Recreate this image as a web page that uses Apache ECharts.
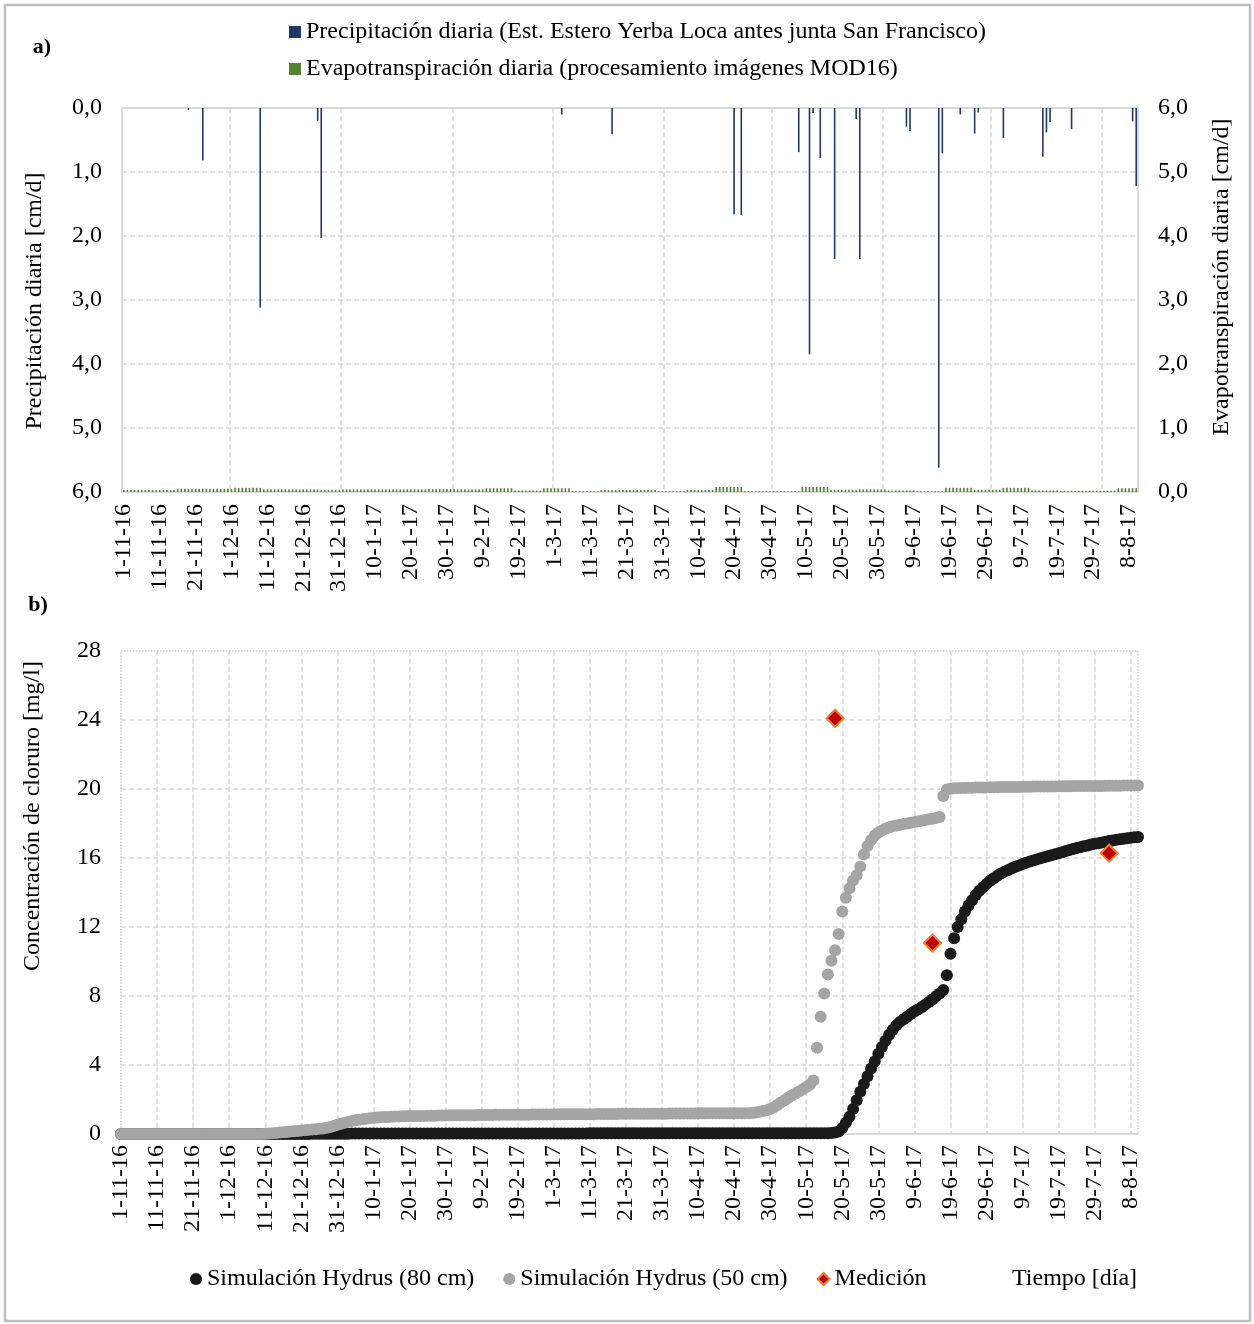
<!DOCTYPE html>
<html>
<head>
<meta charset="utf-8">
<script src="https://cdn.jsdelivr.net/npm/echarts@6/dist/echarts.min.js"></script>
<style>
html,body{margin:0;padding:0;background:#fff;}
#chart{width:1254px;height:1324px;}
</style>
</head>
<body>
<div id="chart"></div>
<script>
// Daily records start on 1 Nov 2016; the time axis covers 283 days (to 10 Aug 2017).
const startYear = 2016, startMonth = 10, startDay = 1;
const dayCount = 283;

// Panel a) daily precipitation [cm/d]
const precipDates = ['19-11-16','23-11-16','9-12-16','25-12-16','26-12-16','3-3-17','17-3-17',
  '20-4-17','22-4-17','8-5-17','11-5-17','12-5-17','14-5-17','18-5-17','24-5-17','25-5-17',
  '7-6-17','8-6-17','16-6-17','17-6-17','22-6-17','26-6-17','27-6-17','4-7-17','15-7-17',
  '16-7-17','17-7-17','23-7-17','9-8-17','10-8-17'];
const precipValues = [0.03,0.82,3.12,0.2,2.03,0.1,0.41,
  1.66,1.67,0.69,3.85,0.08,0.78,2.36,0.17,2.36,
  0.29,0.36,5.62,0.71,0.1,0.4,0.07,0.47,0.76,
  0.38,0.22,0.33,0.21,1.22];

// Panel a) MOD16 evapotranspiration [cm/d], one value per 8-day composite (start date of each)
const etBlockStarts = ['1-11-16','8-11-16','16-11-16','24-11-16','2-12-16','10-12-16','18-12-16','26-12-16',
  '1-1-17','9-1-17','17-1-17','25-1-17','2-2-17','10-2-17','18-2-17','26-2-17','6-3-17','14-3-17',
  '22-3-17','30-3-17','7-4-17','15-4-17','23-4-17','1-5-17','9-5-17','17-5-17','25-5-17','2-6-17',
  '10-6-17','18-6-17','26-6-17','4-7-17','12-7-17','20-7-17','28-7-17','5-8-17'];
const etBlockValues = [0.03,0.03,0.05,0.05,0.065,0.04,0.04,0.035,
  0.04,0.04,0.04,0.045,0.04,0.06,0.025,0.06,0.012,0.03,
  0.03,0.01,0.03,0.08,0.012,0.012,0.08,0.035,0.04,0.025,
  0.01,0.065,0.035,0.065,0.025,0.02,0.02,0.06];

// Panel b) time axis labels, every 10 days
const timeTickLabels = ['1-11-16','11-11-16','21-11-16','1-12-16','11-12-16','21-12-16','31-12-16',
  '10-1-17','20-1-17','30-1-17','9-2-17','19-2-17','1-3-17','11-3-17','21-3-17','31-3-17',
  '10-4-17','20-4-17','30-4-17','10-5-17','20-5-17','30-5-17','9-6-17','19-6-17','29-6-17',
  '9-7-17','19-7-17','29-7-17','8-8-17'];

// Panel b) simulated chloride concentration [mg/l], one value per day from 1-11-16
const sim80 = [
  0,0,0,0,0,0,0,0,0,0,
  0,0,0,0,0,0,0,0,0,0,
  0,0,0,0,0,0,0,0,0,0,
  0,0,0,0,0,0,0,0,0,0,
  0,0,0,0,0,0,0,0,0,0,
  0,0,0,0.01,0.01,0.01,0.01,0.02,0.02,0.02,
  0.02,0.02,0.02,0.02,0.03,0.03,0.03,0.03,0.03,0.03,
  0.03,0.03,0.03,0.03,0.03,0.03,0.03,0.03,0.03,0.03,
  0.03,0.03,0.03,0.03,0.03,0.03,0.03,0.03,0.03,0.03,
  0.03,0.03,0.03,0.03,0.03,0.03,0.03,0.03,0.03,0.03,
  0.03,0.03,0.03,0.03,0.03,0.03,0.03,0.03,0.03,0.03,
  0.03,0.03,0.03,0.03,0.03,0.03,0.03,0.03,0.03,0.03,
  0.03,0.03,0.03,0.03,0.03,0.03,0.03,0.03,0.03,0.03,
  0.04,0.04,0.04,0.04,0.04,0.04,0.04,0.04,0.04,0.04,
  0.04,0.04,0.04,0.04,0.04,0.04,0.04,0.04,0.04,0.04,
  0.04,0.04,0.04,0.04,0.04,0.04,0.04,0.04,0.04,0.04,
  0.04,0.04,0.04,0.04,0.04,0.04,0.04,0.04,0.04,0.04,
  0.04,0.04,0.04,0.04,0.04,0.04,0.04,0.04,0.04,0.04,
  0.04,0.04,0.04,0.04,0.04,0.04,0.04,0.04,0.04,0.04,
  0.04,0.04,0.04,0.04,0.05,0.05,0.05,0.06,0.08,0.15,
  0.35,0.65,1.0,1.45,1.95,2.45,2.9,3.35,3.8,4.2,
  4.65,5.05,5.4,5.75,6.05,6.3,6.5,6.65,6.8,6.95,
  7.1,7.22,7.35,7.5,7.65,7.8,7.98,8.15,8.35,9.2,
  10.45,11.35,12.0,12.45,12.9,13.25,13.55,13.85,14.1,14.3,
  14.5,14.68,14.83,14.97,15.1,15.21,15.31,15.4,15.49,15.57,
  15.65,15.72,15.79,15.86,15.92,15.98,16.04,16.1,16.16,16.22,
  16.28,16.34,16.4,16.46,16.52,16.58,16.63,16.68,16.73,16.78,
  16.82,16.86,16.9,16.94,16.98,17.02,17.06,17.09,17.12,17.15,
  17.18,17.2,17.22
];
const sim50 = [
  0,0,0,0,0,0,0,0,0,0,
  0,0,0,0,0,0,0,0,0,0,
  0,0,0,0,0,0,0,0,0,0,
  0,0,0,0,0,0,0,0,0,0,
  0.02,0.03,0.05,0.06,0.08,0.1,0.12,0.14,0.16,0.18,
  0.2,0.22,0.24,0.26,0.28,0.3,0.32,0.36,0.41,0.47,
  0.53,0.59,0.65,0.7,0.75,0.79,0.83,0.86,0.89,0.91,
  0.93,0.95,0.97,0.98,0.99,1.0,1.01,1.02,1.03,1.03,
  1.04,1.04,1.05,1.05,1.05,1.06,1.06,1.06,1.07,1.07,
  1.07,1.08,1.08,1.08,1.08,1.09,1.09,1.09,1.09,1.1,
  1.1,1.1,1.1,1.1,1.11,1.11,1.11,1.11,1.11,1.12,
  1.12,1.12,1.12,1.12,1.13,1.13,1.13,1.13,1.13,1.13,
  1.14,1.14,1.14,1.14,1.14,1.14,1.15,1.15,1.15,1.15,
  1.15,1.15,1.16,1.16,1.16,1.16,1.16,1.16,1.17,1.17,
  1.17,1.17,1.17,1.17,1.17,1.18,1.18,1.18,1.18,1.18,
  1.18,1.18,1.19,1.19,1.19,1.19,1.19,1.19,1.19,1.19,
  1.2,1.2,1.2,1.2,1.2,1.2,1.2,1.2,1.2,1.2,
  1.2,1.2,1.2,1.2,1.2,1.22,1.25,1.29,1.33,1.38,
  1.45,1.55,1.68,1.82,1.96,2.1,2.23,2.35,2.47,2.6,
  2.72,2.85,3.1,5.0,6.8,8.15,9.25,10.05,10.65,11.6,
  12.9,13.7,14.25,14.7,15.0,15.5,16.2,16.7,17.05,17.3,
  17.48,17.6,17.7,17.78,17.84,17.89,17.93,17.97,18.0,18.04,
  18.08,18.12,18.16,18.2,18.24,18.28,18.32,18.38,19.6,19.97,
  20.02,20.04,20.05,20.06,20.06,20.07,20.07,20.08,20.08,20.09,
  20.09,20.1,20.1,20.1,20.11,20.11,20.11,20.12,20.12,20.12,
  20.13,20.13,20.13,20.14,20.14,20.14,20.15,20.15,20.15,20.15,
  20.16,20.16,20.16,20.16,20.17,20.17,20.17,20.17,20.18,20.18,
  20.18,20.18,20.18,20.19,20.19,20.19,20.19,20.19,20.2,20.2,
  20.2,20.2,20.2
];

// Panel b) measured chloride concentration [mg/l]
const measDates = ['18-5-17','14-6-17','2-8-17'];
const measValues = [24.1, 11.07, 16.28];

// --- date helpers ---------------------------------------------------------
const DAY_MS = 86400000;
const t0 = Date.UTC(startYear, startMonth, startDay);
function dayLabel(i) {
  const d = new Date(t0 + i * DAY_MS);
  return d.getUTCDate() + '-' + (d.getUTCMonth() + 1) + '-' + String(d.getUTCFullYear()).slice(2);
}
function dayIndex(label) {
  const p = label.split('-').map(Number);
  return Math.round((Date.UTC(2000 + p[2], p[1] - 1, p[0]) - t0) / DAY_MS);
}

const days = Array.from({ length: dayCount }, (_, i) => dayLabel(i));
const precipDaily = days.map(d => {
  const k = precipDates.indexOf(d);
  return k >= 0 ? precipValues[k] : '-';
});
const etStartIdx = etBlockStarts.map(dayIndex);
const etDaily = days.map((d, i) => {
  let k = 0;
  while (k + 1 < etStartIdx.length && etStartIdx[k + 1] <= i) k++;
  return etBlockValues[k];
});
const isMonthStart = i => i > 0 && days[i] && days[i].split('-')[0] === '1';

const serif = 'Liberation Serif, Times New Roman, serif';
const fmt1 = v => Number(v).toFixed(1).replace('.', ',');
const gridLine = { color: '#d9d9d9', width: 1.5, type: [5, 3] };
const tickText = { fontSize: 24, color: '#000', fontFamily: serif };

const precipName = 'Precipitación diaria (Est. Estero Yerba Loca antes junta San Francisco)';
const etName = 'Evapotranspiración diaria (procesamiento imágenes MOD16)';
const s80Name = 'Simulación Hydrus (80 cm)';
const s50Name = 'Simulación Hydrus (50 cm)';
const measName = 'Medición';

const chart = echarts.init(document.getElementById('chart'), null, { renderer: 'canvas' });
chart.setOption({
  animation: false,
  backgroundColor: '#ffffff',
  textStyle: { fontFamily: serif },
  grid: [
    { left: 122, top: 108, width: 1016, height: 384, show: true, borderColor: '#d9d9d9', borderWidth: 2,
      backgroundColor: 'transparent', outerBoundsMode: 'none' },
    { left: 121, top: 651, width: 1017, height: 483, show: true, borderColor: '#cfcfcf', borderWidth: 1.5,
      borderType: 'dotted', backgroundColor: 'transparent', outerBoundsMode: 'none' }
  ],
  legend: [
    { data: [precipName, etName], orient: 'vertical', left: 289, top: 20, itemGap: 13, padding: 0,
      itemWidth: 12, itemHeight: 12, icon: 'rect', selectedMode: false,
      textStyle: { fontSize: 24, color: '#000', fontFamily: serif } },
    { data: [s80Name, s50Name, measName], orient: 'horizontal', left: 190, top: 1267, itemGap: 29, padding: 0,
      itemWidth: 12, itemHeight: 12, selectedMode: false,
      textStyle: { fontSize: 24, color: '#000', fontFamily: serif } }
  ],
  xAxis: [
    { type: 'category', gridIndex: 0, data: days, boundaryGap: true,
      axisLine: { show: false }, axisTick: { show: false },
      axisLabel: Object.assign({ interval: i => i % 10 === 0, rotate: 90, margin: 12 }, tickText),
      splitLine: { show: true, interval: i => isMonthStart(i), lineStyle: gridLine } },
    { type: 'value', gridIndex: 1, min: 0, max: dayCount - 1, interval: 10,
      axisLine: { show: true, onZero: false, lineStyle: { color: '#d9d9d9', width: 2 } },
      axisTick: { show: false },
      axisLabel: Object.assign({ rotate: 90, margin: 11, showMaxLabel: false,
        formatter: v => (v % 10 === 0 ? (timeTickLabels[v / 10] || '') : '') }, tickText),
      splitLine: { show: true, showMinLine: false, showMaxLine: false, lineStyle: gridLine } }
  ],
  yAxis: [
    { type: 'value', gridIndex: 0, min: 0, max: 6, interval: 1, inverse: true, position: 'left',
      axisLine: { show: false }, axisTick: { show: false },
      axisLabel: Object.assign({ formatter: fmt1, margin: 20 }, tickText),
      splitLine: { show: true, showMinLine: false, showMaxLine: false, lineStyle: gridLine } },
    { type: 'value', gridIndex: 0, min: 0, max: 6, interval: 1, position: 'right',
      axisLine: { show: false }, axisTick: { show: false },
      axisLabel: Object.assign({ formatter: fmt1, margin: 20 }, tickText),
      splitLine: { show: false } },
    { type: 'value', gridIndex: 1, min: 0, max: 28, interval: 4,
      axisLine: { show: false }, axisTick: { show: false },
      axisLabel: Object.assign({ margin: 20 }, tickText),
      splitLine: { show: true, showMinLine: false, showMaxLine: false, lineStyle: gridLine } }
  ],
  series: [
    { name: precipName, type: 'bar', xAxisIndex: 0, yAxisIndex: 0, data: precipDaily,
      barWidth: 1.6, barGap: '-100%', itemStyle: { color: '#1f3864' } },
    { name: etName, type: 'bar', xAxisIndex: 0, yAxisIndex: 1, data: etDaily,
      barWidth: 1.6, barGap: '-100%', itemStyle: { color: '#548235' } },
    { name: s80Name, type: 'scatter', xAxisIndex: 1, yAxisIndex: 2, symbol: 'circle', symbolSize: 12,
      data: sim80.map((v, i) => [i, v]), itemStyle: { color: '#1a1a1a', opacity: 1 } },
    { name: s50Name, type: 'scatter', xAxisIndex: 1, yAxisIndex: 2, symbol: 'circle', symbolSize: 12,
      data: sim50.map((v, i) => [i, v]), itemStyle: { color: '#a5a5a5', opacity: 1 } },
    { name: measName, type: 'scatter', xAxisIndex: 1, yAxisIndex: 2, symbol: 'diamond', symbolSize: 17,
      data: measDates.map((d, k) => [dayIndex(d), measValues[k]]),
      itemStyle: { color: '#c00000', borderColor: '#ed7d31', borderWidth: 2, opacity: 1 }, z: 5 }
  ],
  graphic: [
    { type: 'rect', silent: true, z: -10, shape: { x: 5, y: 5, width: 1245, height: 1316 },
      style: { fill: 'none', stroke: '#bfbfbf', lineWidth: 2.5 } },
    { type: 'text', silent: true, x: 42, y: 47,
      style: { text: 'a)', fontSize: 22, fontWeight: 'bold', fontFamily: serif, fill: '#000', align: 'center', verticalAlign: 'middle' } },
    { type: 'text', silent: true, x: 38, y: 605,
      style: { text: 'b)', fontSize: 22, fontWeight: 'bold', fontFamily: serif, fill: '#000', align: 'center', verticalAlign: 'middle' } },
    { type: 'text', silent: true, x: 35, y: 301, rotation: Math.PI / 2,
      style: { text: 'Precipitación diaria [cm/d]', fontSize: 24, fontFamily: serif, fill: '#000', align: 'center', verticalAlign: 'middle' } },
    { type: 'text', silent: true, x: 1222, y: 277, rotation: Math.PI / 2,
      style: { text: 'Evapotranspiración diaria [cm/d]', fontSize: 24, fontFamily: serif, fill: '#000', align: 'center', verticalAlign: 'middle' } },
    { type: 'text', silent: true, x: 33, y: 816, rotation: Math.PI / 2,
      style: { text: 'Concentración de cloruro [mg/l]', fontSize: 24, fontFamily: serif, fill: '#000', align: 'center', verticalAlign: 'middle' } },
    { type: 'text', silent: true, x: 1012, y: 1279,
      style: { text: 'Tiempo [día]', fontSize: 24, fontFamily: serif, fill: '#000', align: 'left', verticalAlign: 'middle' } }
  ]
});
</script>
</body>
</html>
